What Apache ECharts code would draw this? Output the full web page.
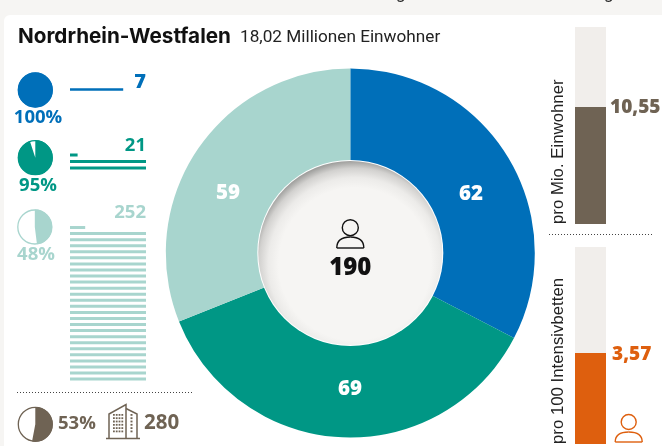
<!DOCTYPE html>
<html><head><meta charset="utf-8">
<style>html,body{margin:0;padding:0;background:#f6f5f3;overflow:hidden}#c{width:662px;height:446px}</style>
<script src="https://cdn.jsdelivr.net/npm/echarts@6/dist/echarts.min.js"></script>
</head><body><div id="c"></div>
<script>
const titleText = 'Nordrhein-Westfalen';
const subtitleText = '18,02 Millionen Einwohner';
const donutValues = [62, 69, 59];
const donutTotal = 190;
const vaccineShares = [100, 95, 48];
const stripeTotals = [7, 21, 252];
const occupancyShare = 53;
const hospitals = 280;
const perMillion = 10.55;
const perMillionScale = 17.76;
const per100Beds = 3.57;
const per100BedsScale = 7.73;
const perMillionLabel = 'pro Mio. Einwohner';
const per100BedsLabel = 'pro 100 Intensivbetten';

const BLUE='#006fb9', TEAL='#009785', MINT='#a8d5ce', BROWN='#6f6354', ORANGE='#de5f0e', TRACK='#f1eeeb';
const tierColors=[BLUE,TEAL,MINT];
const NUM='"Open Sans", sans-serif';
const de=v=>String(v).replace('.',',');

function stripeRows(total){
  const rows=[]; const rest=total%10;
  if(rest) rows.push(rest);
  for(let i=0;i<Math.floor(total/10);i++) rows.push(10);
  return rows;
}
const stripeBoxes=[{top:86.5,h:6,w:2.6},{top:151.75,h:19.5,w:3},{top:224.5,h:157.6,w:3}];
const grids=[],xAxes=[],yAxes=[],series=[];
stripeTotals.forEach((t,i)=>{
  const rows=stripeRows(t);
  grids.push({left:70,width:76,top:stripeBoxes[i].top,height:stripeBoxes[i].h});
  xAxes.push({type:'value',gridIndex:i,min:0,max:10,show:false});
  yAxes.push({type:'category',gridIndex:i,inverse:true,show:false,data:rows.map((_,k)=>k)});
  series.push({type:'bar',xAxisIndex:i,yAxisIndex:i,data:rows,barWidth:stripeBoxes[i].w,
    itemStyle:{color:tierColors[i]},silent:true,animation:false});
});
[[27,perMillion,perMillionScale,BROWN],[247,per100Beds,per100BedsScale,ORANGE]].forEach(([top,v,scale,col],j)=>{
  const idx=grids.length;
  grids.push({left:575,width:31,top,height:197});
  xAxes.push({type:'category',gridIndex:idx,show:false,data:['a']});
  yAxes.push({type:'value',gridIndex:idx,min:0,max:scale,show:false});
  series.push({type:'bar',xAxisIndex:idx,yAxisIndex:idx,data:[v],barWidth:31,showBackground:true,
    backgroundStyle:{color:TRACK},itemStyle:{color:col},silent:true,animation:false});
});
const donutLabelPos=[[471,194],[350,389],[228,193]];
series.push({type:'pie',center:[350.3,253],radius:[90,184.5],startAngle:90,clockwise:true,silent:true,animation:false,
  data:donutValues.map((v,i)=>({value:v,itemStyle:{color:tierColors[i]}})),
  label:{show:true,position:'inside',formatter:'{c}',color:'#fff',fontFamily:NUM,fontWeight:800,fontSize:20.5},
  labelLine:{show:false},
  labelLayout:p=>({x:donutLabelPos[p.dataIndex][0],y:donutLabelPos[p.dataIndex][1],align:'center',verticalAlign:'middle'})
});
function miniPie(cx,cy,share,col){
  series.push({type:'pie',center:[cx,cy],radius:[0,17],silent:true,animation:false,label:{show:false},labelLine:{show:false},
    data:[{value:1,itemStyle:{color:'#fff',borderColor:col,borderWidth:1.3}}]});
  series.push({type:'pie',center:[cx,cy],radius:[0,17.4],startAngle:90,silent:true,animation:false,stillShowZeroSum:false,
    label:{show:false},labelLine:{show:false},
    data:[{value:share,itemStyle:{color:col}},{value:100-share,itemStyle:{color:'rgba(0,0,0,0)'}}]});
}
miniPie(35.3,90,vaccineShares[0],BLUE);
miniPie(35.3,157.7,vaccineShares[1],TEAL);
miniPie(34.8,227,vaccineShares[2],MINT);
miniPie(35.3,424.3,occupancyShare,BROWN);

const txt=(text,x,y,o)=>({type:'text',x,y,z:100,silent:true,style:Object.assign({text,fill:'#111',fontFamily:NUM,fontSize:18.5,fontWeight:700,align:'left',verticalAlign:'middle'},o)});
const g=[];
g.push({type:'rect',z:0,silent:true,shape:{x:4,y:15,width:700,height:470,r:6},style:{fill:'#fff'}});
g.push(txt('g',396,-5,{fontFamily:'Roboto',fontSize:17,fontWeight:400,fill:'#222'}));
g.push(txt('g',604,-5,{fontFamily:'Roboto',fontSize:17,fontWeight:400,fill:'#222'}));
g.push(txt(titleText,18,37,{fontFamily:'Inter',fontSize:20.7,fontWeight:700,fill:'#111'}));
g.push(txt(subtitleText,240,38,{fontFamily:'Roboto',fontSize:17.2,fontWeight:400,fill:'#222'}));
g.push(txt(vaccineShares[0]+'%',38,118,{align:'center',fill:BLUE}));
g.push(txt(vaccineShares[1]+'%',38,186,{align:'center',fill:TEAL}));
g.push(txt(vaccineShares[2]+'%',36,255,{align:'center',fill:MINT}));
g.push(txt(String(stripeTotals[0]),146,82,{align:'right',fill:BLUE,fontSize:20,fontWeight:800}));
g.push(txt(String(stripeTotals[1]),146,146,{align:'right',fill:TEAL}));
g.push(txt(String(stripeTotals[2]),146,213,{align:'right',fill:MINT}));
g.push(txt(occupancyShare+'%',58,424,{fill:BROWN}));
g.push(txt(String(hospitals),144,423,{fill:BROWN,fontSize:20.5}));
g.push(txt(de(perMillion),610,108,{fill:BROWN,fontSize:19,fontWeight:800}));
g.push(txt(de(per100Beds),612,355,{fill:ORANGE,fontSize:19,fontWeight:800}));
[[558,224,perMillionLabel],[558,444,per100BedsLabel]].forEach(([x,y,t])=>{
  g.push({type:'text',x,y,rotation:Math.PI/2,z:100,silent:true,
    style:{text:t,fontFamily:'"Liberation Sans"',fontSize:16.8,fill:'#222',align:'left',verticalAlign:'middle'}});
});
const dots=(x1,x2,y)=>({type:'line',z:100,silent:true,shape:{x1,y1:y,x2,y2:y},style:{stroke:'#444',lineWidth:1,lineDash:[1,2]}});
g.push(dots(17,192,392.5),dots(549,654,234.5));
// hole
g.push({type:'circle',z:50,silent:true,shape:{cx:350.3,cy:253,r:93},style:{fill:'#fff'}});
g.push({type:'circle',z:51,silent:true,shape:{cx:350.3,cy:253,r:92},style:{fill:{type:'radial',x:.525,y:.56,r:.56,colorStops:[
  {offset:0,color:'#f6f5f3'},{offset:.74,color:'#f6f5f3'},{offset:.84,color:'#ecebe9'},{offset:.93,color:'#d2d1cf'},{offset:1,color:'#a0a09e'}]}}});
const strokeLine=(x1,y1,x2,y2,col,lw)=>({type:'line',z:100,silent:true,shape:{x1,y1,x2,y2},style:{stroke:col,lineWidth:lw}});
const person=(cx,headY,r,bodyTop,bodyBot,hw,col,lw)=>[
  {type:'circle',z:100,silent:true,shape:{cx,cy:headY,r},style:{fill:'none',stroke:col,lineWidth:lw}},
  {type:'bezierCurve',z:100,silent:true,shape:{x1:cx-hw,y1:bodyBot,cpx1:cx-hw,cpy1:bodyTop+2,cpx2:cx-hw/2,cpy2:bodyTop,x2:cx,y2:bodyTop},style:{fill:'none',stroke:col,lineWidth:lw}},
  {type:'bezierCurve',z:100,silent:true,shape:{x1:cx,y1:bodyTop,cpx1:cx+hw/2,cpy1:bodyTop,cpx2:cx+hw,cpy2:bodyTop+2,x2:cx+hw,y2:bodyBot},style:{fill:'none',stroke:col,lineWidth:lw}},
  strokeLine(cx-hw,bodyBot,cx+hw,bodyBot,col,lw)];
g.push(...person(350.3,227.7,8,237,248,13.5,'#111',1.4));
g.push(...person(628.7,422,7.5,432,442,13.5,ORANGE,1.4));
g.push(txt(String(donutTotal),350.3,268,{align:'center',fontSize:24,fontWeight:800,fill:'#111'}));
// building icon
const poly=pts=>({type:'polyline',z:100,silent:true,shape:{points:pts},style:{fill:'none',stroke:BROWN,lineWidth:1.5}});
g.push(poly([[109,438],[109,414],[126,404.5],[126,438]]),poly([[126,408.5],[137,414],[137,438]]),strokeLine(106,438.5,140,438.5,BROWN,1.5));
for(let r=0;r<6;r++){
  for(let c=0;c<4;c++) g.push({type:'rect',z:100,silent:true,shape:{x:113+c*2.8,y:414+r*3.3,width:1.8,height:1.8},style:{fill:BROWN}});
  g.push({type:'rect',z:100,silent:true,shape:{x:130.5,y:414+r*3.3,width:2,height:1.8},style:{fill:BROWN}});
}
const chart=echarts.init(document.getElementById('c'),null,{renderer:'canvas'});
chart.setOption({backgroundColor:'#f6f5f3',animation:false,grid:grids,xAxis:xAxes,yAxis:yAxes,series,graphic:{elements:g}});
</script></body></html>
